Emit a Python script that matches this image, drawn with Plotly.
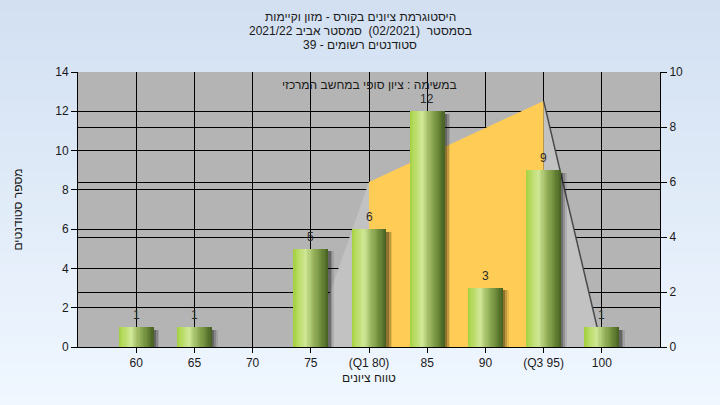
import plotly.graph_objects as go

# ---------------- data ----------------
categories = ["60", "65", "70", "75", "(Q1 80)", "85", "90", "(Q3 95)", "100"]
counts = [1, 1, 0, 5, 6, 12, 3, 9, 1]
# distribution area (right axis), positions as category indices
area_left_x = [3, 4, 4]          # 75 -> Q1
area_left_y = [0, 6, 0]
area_mid_x = [4, 4, 7, 7]        # Q1 -> Q3
area_mid_y = [0, 6, 8.95, 0]
area_right_x = [7, 7, 8]         # Q3 -> 100
area_right_y = [0, 8.95, 0]
whisker_x = [7, 8]
whisker_y = [8.95, 0]

title_lines = [
    "היסטוגרמת ציונים בקורס - מזון וקיימות",
    "בסמסטר  (02/2021)  סמסטר אביב 2021/22",
    "סטודנטים רשומים - 39",
]
subtitle = "במשימה : ציון סופי במחשב המרכזי"
x_title = "טווח ציונים"
y_title = "מספר סטודנטים"

xpos = list(range(len(categories)))

FONT = "Liberation Sans, Arial, DejaVu Sans, sans-serif"
TXT = "#1a1a1a"

fig = go.Figure()

# ---- distribution polygons on right axis (y) ----
fig.add_trace(go.Scatter(x=area_left_x, y=area_left_y, fill="toself", mode="lines",
                         line=dict(width=0), fillcolor="#c2c2c2", hoverinfo="skip",
                         showlegend=False, yaxis="y", xaxis="x"))
fig.add_trace(go.Scatter(x=area_right_x, y=area_right_y, fill="toself", mode="lines",
                         line=dict(width=0), fillcolor="#c2c2c2", hoverinfo="skip",
                         showlegend=False, yaxis="y", xaxis="x"))
fig.add_trace(go.Scatter(x=area_mid_x, y=area_mid_y, fill="toself", mode="lines",
                         line=dict(width=0), fillcolor="#ffcc55", hoverinfo="skip",
                         showlegend=False, yaxis="y", xaxis="x"))
fig.add_trace(go.Scatter(x=whisker_x, y=whisker_y, mode="lines",
                         line=dict(width=1.5, color="#4a4a4a"), hoverinfo="skip",
                         showlegend=False, yaxis="y", xaxis="x"))

# ---- bar shadows (left axis, y2) ----
BW = 0.6
shadow_layers = [(0.10, 0.10), (0.07, 0.16), (0.04, 0.25)]
for dx, op in shadow_layers:
    fig.add_trace(go.Bar(x=xpos, y=counts, base=-0.12, offset=-BW / 2 + dx, width=BW,
                         marker=dict(color=f"rgba(0,0,0,{op})", line=dict(width=0)),
                         hoverinfo="skip", showlegend=False, yaxis="y2", xaxis="x"))

# ---- gradient bars: vertical slices ----
stops = [(0.0, (162, 207, 62)), (0.12, (182, 218, 95)), (0.35, (208, 231, 150)),
         (0.55, (158, 185, 98)), (0.8, (108, 138, 58)), (1.0, (68, 94, 32))]


def col_at(t):
    for (t0, c0), (t1, c1) in zip(stops[:-1], stops[1:]):
        if t0 <= t <= t1:
            f = (t - t0) / (t1 - t0) if t1 > t0 else 0
            return "rgb(%d,%d,%d)" % tuple(round(a + (b - a) * f) for a, b in zip(c0, c1))
    return "rgb(%d,%d,%d)" % stops[-1][1]


N = 30
sw = BW / N
for k in range(N):
    t = (k + 0.5) / N
    fig.add_trace(go.Bar(x=xpos, y=counts, offset=-BW / 2 + k * sw, width=sw * 1.15 if k < N - 1 else sw,
                         marker=dict(color=col_at(t), line=dict(width=0)),
                         hoverinfo="skip", showlegend=False, yaxis="y2", xaxis="x"))

# ---- background gradient (paper) + plot area ----
shapes = []
H = 405.0
PT, PB = 72.0, 347.0
top_c = (210, 224, 242)
bot_c = (240, 247, 255)
NB = 40
for i in range(NB):
    p0 = H * i / NB
    p1 = H * (i + 1) / NB + 1
    f = (i + 0.5) / NB
    c = tuple(round(a + (b - a) * f) for a, b in zip(top_c, bot_c))
    shapes.append(dict(type="rect", xref="paper", yref="paper", layer="below",
                       x0=-0.5, x1=1.5, y0=(PB - p1) / (PB - PT), y1=(PB - p0) / (PB - PT),
                       fillcolor="rgb(%d,%d,%d)" % c, line=dict(width=0)))
shapes.append(dict(type="rect", xref="x domain", yref="y domain", layer="below",
                   x0=0, x1=1, y0=0, y1=1, fillcolor="#b4b4b4", line=dict(width=0)))

annotations = []
for i, line in enumerate(title_lines):
    annotations.append(dict(text=line, xref="paper", yref="paper",
                            x=(360 - 78) / 582.0, y=(PB - (17 + 14 * i)) / (PB - PT),
                            xanchor="center", yanchor="middle", showarrow=False,
                            font=dict(size=12, color=TXT, family=FONT)))
annotations.append(dict(text=subtitle, xref="paper", yref="paper", x=0.5,
                        y=(PB - 85) / (PB - PT), xanchor="center", yanchor="middle",
                        showarrow=False, font=dict(size=12, color=TXT, family=FONT)))
# value labels above bars
for p, c in zip(xpos, counts):
    if c > 0:
        annotations.append(dict(text=str(c), xref="x", yref="y2", x=p, y=c, yshift=12,
                                xanchor="center", yanchor="middle", showarrow=False,
                                font=dict(size=12, color="#2a2a2a", family=FONT)))

axis_common = dict(showgrid=True, gridcolor="#000000", gridwidth=1, showline=True,
                   linecolor="#000000", linewidth=1, ticks="outside", tickcolor="#000000",
                   zeroline=False, tickfont=dict(size=12, color=TXT, family=FONT))

fig.update_layout(
    width=720, height=405,
    margin=dict(l=78, r=60, t=72, b=58, autoexpand=False),
    paper_bgcolor="#e4edf8",
    plot_bgcolor="rgba(0,0,0,0)",
    barmode="overlay",
    bargap=0,
    shapes=shapes,
    annotations=annotations,
    hovermode=False,
    xaxis=dict(range=[-1, 9], tickmode="array", tickvals=xpos, ticktext=categories,
               ticklen=5, title=dict(text=x_title, font=dict(size=12, color=TXT, family=FONT), standoff=4),
               **axis_common),
    yaxis=dict(range=[0, 10], side="right", dtick=2, ticklen=6, **axis_common),
    yaxis2=dict(range=[0, 14], side="left", overlaying="y", anchor="x", dtick=2, ticklen=6,
                title=dict(text=y_title, font=dict(size=12, color=TXT, family=FONT), standoff=30),
                **axis_common),
    font=dict(family=FONT, size=12, color=TXT),
)

fig.write_html("out.html", config={"displayModeBar": False, "staticPlot": True},
               post_script="document.body.style.margin='0';document.body.style.padding='0';"
                           "document.documentElement.style.overflow='hidden';")
